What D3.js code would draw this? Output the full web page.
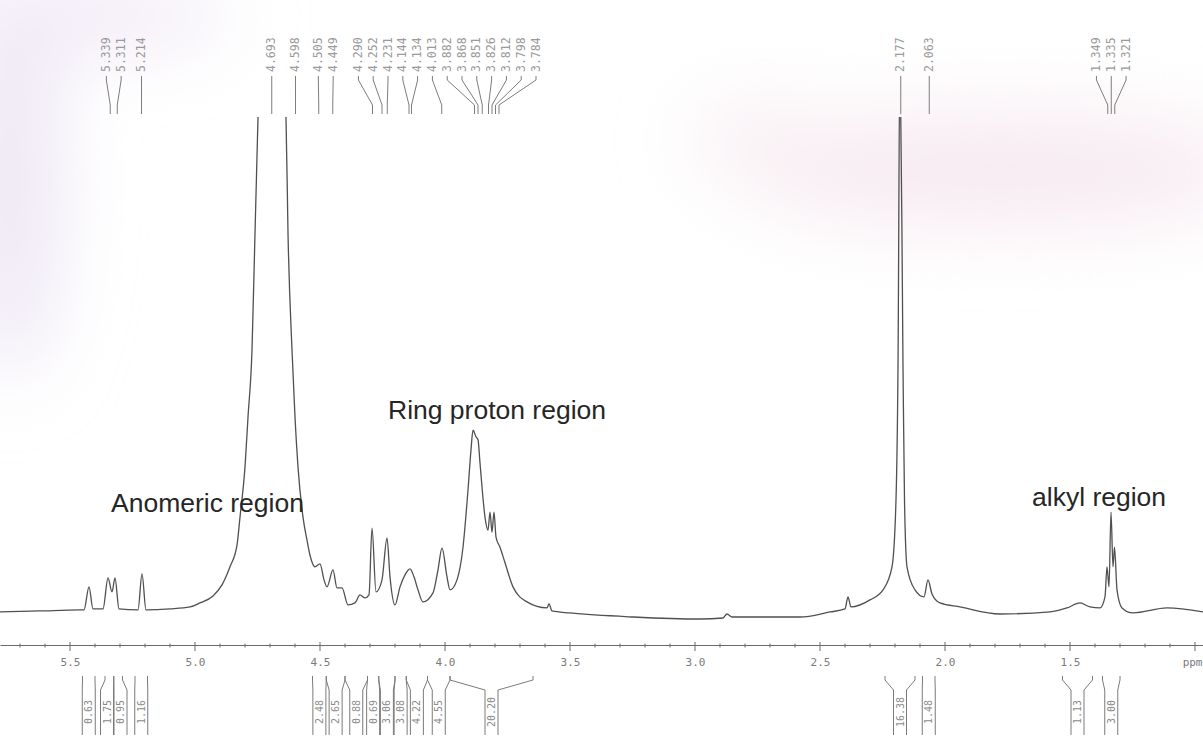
<!DOCTYPE html>
<html>
<head>
  <meta charset="utf-8">
  <script type="text/javascript" src="https://d3js.org/d3.v7.min.js" charset="utf-8"></script>
  <style>
    body {
      margin: 0;
      background: #ffffff;
    }
    .mono {
      font-family: "DejaVu Sans Mono", "Liberation Mono", monospace;
    }
    .region {
      font-family: "Liberation Sans", Arial, sans-serif;
      font-size: 26.5px;
      fill: #262626;
    }
  </style>
</head>
<body>
  <div id="container"></div>

  <script type="text/javascript">

    var w = 1203,
        h = 745;

    // spectrum trace (ppm, intensity)
    var tracePpm = [5.78, 5.62, 5.46, 5.444, 5.424, 5.408, 5.368, 5.348, 5.332, 5.32, 5.304, 5.228, 5.212, 5.196,
      5.10, 5.02, 4.98, 4.928, 4.892, 4.86, 4.832, 4.82, 4.80, 4.788, 4.772, 4.76, 4.748, 4.732, 4.692, 4.664,
      4.636, 4.628, 4.612, 4.60, 4.588, 4.568, 4.552, 4.54, 4.52, 4.50, 4.484, 4.472, 4.448, 4.432, 4.412,
      4.388, 4.36, 4.34, 4.32, 4.304, 4.292, 4.276, 4.252, 4.232, 4.22, 4.20, 4.18, 4.16, 4.14, 4.124,
      4.108, 4.088, 4.048, 4.028, 4.012, 3.992, 3.98, 3.952, 3.928, 3.908, 3.896, 3.888, 3.876, 3.868, 3.86,
      3.852, 3.84, 3.828, 3.82, 3.812, 3.804, 3.796, 3.78, 3.76, 3.728, 3.672, 3.592, 3.584, 3.572, 3.50,
      3.248, 2.98, 2.888, 2.872, 2.852, 2.58, 2.46, 2.40, 2.388, 2.376, 2.30, 2.248, 2.212, 2.196, 2.188,
      2.18, 2.168, 2.162, 2.152, 2.12, 2.084, 2.068, 2.052, 2.02, 1.94, 1.78, 1.58, 1.512, 1.46, 1.42,
      1.38, 1.36, 1.352, 1.344, 1.336, 1.328, 1.322, 1.312, 1.292, 1.248, 1.112, 0.968];
    var traceInt = [1.6, 1.8, 2.0, 2.0, 6.6, 2.2, 2.2, 8.4, 5.6, 8.4, 2.2, 2.0, 9.2, 2.0,
      2.2, 2.6, 3.4, 4.8, 7.0, 10.6, 14.9, 20.5, 30.5, 40.4, 53.8, 77.1, 100, 130, 140, 120,
      100, 77.1, 53.8, 40.4, 30.5, 20.5, 15.9, 12.9, 10.6, 11.2, 8.0, 6.6, 10.0, 6.4, 6.4,
      3.0, 3.4, 5.0, 4.4, 5.0, 18.3, 5.6, 8.0, 16.3, 8.6, 3.0, 6.6, 9.0, 10.2, 8.6,
      6.0, 3.6, 5.4, 10.0, 14.3, 8.6, 6.0, 8.0, 14.5, 25.9, 33.9, 37.8, 36.5, 35.9, 31.3,
      26.5, 20.5, 17.9, 21.5, 17.5, 21.5, 16.5, 14.5, 11.4, 6.6, 3.6, 2.4, 3.2, 1.8, 1.4,
      0.6, 0.2, 0.4, 1.2, 0.6, 0.6, 1.6, 2.2, 4.6, 2.6, 4.0, 6.0, 10.6, 23.9, 50.4,
      115, 50.4, 23.9, 10.6, 6.0, 4.6, 8.0, 5.2, 3.4, 2.6, 1.2, 1.6, 2.4, 3.4, 2.6,
      2.4, 4.6, 10.6, 6.6, 21.5, 10.6, 14.5, 6.0, 2.4, 1.4, 2.4, 1.6];

    // peak picking labels
    var peakLabels = ["5.339", "5.311", "5.214", "4.693", "4.598", "4.505", "4.449", "4.290", "4.252",
      "4.231", "4.144", "4.134", "4.013", "3.882", "3.868", "3.851", "3.826", "3.812", "3.798", "3.784",
      "2.177", "2.063", "1.349", "1.335", "1.321"];

    // integrals: region limits (ppm) and printed value
    var integralFrom = [5.45, 5.36, 5.325, 5.24, 4.53, 4.475, 4.40, 4.31, 4.265, 4.20, 4.155, 4.07, 3.98,
      2.24, 2.09, 1.53, 1.37];
    var integralTo = [5.40, 5.325, 5.29, 5.19, 4.475, 4.40, 4.31, 4.265, 4.20, 4.155, 4.07, 3.98, 3.648,
      2.12, 2.04, 1.41, 1.30];
    var integralValues = ["0.63", "1.75", "0.95", "1.16", "2.48", "2.65", "0.88", "0.69", "3.06", "3.08",
      "4.22", "4.55", "20.20", "16.38", "1.48", "1.13", "3.00"];

    // axis
    var majorTicks = [5.5, 5.0, 4.5, 4.0, 3.5, 3.0, 2.5, 2.0, 1.5, 1.0];
    var majorLabels = ["5.5", "5.0", "4.5", "4.0", "3.5", "3.0", "2.5", "2.0", "1.5", "ppm"];

    // region annotations, anchored in data space
    var regionNames = ["Anomeric region", "Ring proton region", "alkyl region"];
    var regionPpm = [5.336, 4.228, 1.652];
    var regionLevel = [21.5, 40.0, 22.7];

    var svg = d3.select("div#container").append("svg")
          .attr("width", w)
          .attr("height", h);

    var x = d3.scaleLinear().domain([5.78, 0.968]).range([0, w]);
    var y = d3.scaleLinear().domain([0, 100]).range([620, 118]);

    // scanned paper tint
    var defs = svg.append("defs");
    defs.append("filter").attr("id", "blur")
      .attr("x", "-50%").attr("y", "-50%").attr("width", "200%").attr("height", "200%")
      .append("feGaussianBlur").attr("stdDeviation", 40);
    defs.append("clipPath").attr("id", "plotclip")
      .append("rect").attr("x", 0).attr("y", 117).attr("width", w).attr("height", h);

    var tint = svg.append("g").attr("filter", "url(#blur)");
    tint.append("ellipse").attr("cx", 10).attr("cy", 180).attr("rx", 45).attr("ry", 200).attr("fill", "#ece4f3");
    tint.append("ellipse").attr("cx", 90).attr("cy", 15).attr("rx", 140).attr("ry", 30).attr("fill", "#efe6f4");
    tint.append("ellipse").attr("cx", 1000).attr("cy", 170).attr("rx", 260).attr("ry", 55).attr("fill", "#f6e9f0");
    tint.append("ellipse").attr("cx", 760).attr("cy", 140).attr("rx", 70).attr("ry", 35).attr("fill", "#f8eef3");

    // spectrum
    var pts = tracePpm.map(function(d, i) { return [x(d), y(traceInt[i])]; });
    var line = d3.line().curve(d3.curveMonotoneX);
    svg.append("path")
      .attr("d", line(pts))
      .attr("clip-path", "url(#plotclip)")
      .style("fill", "none")
      .style("stroke", "#505050")
      .style("stroke-width", 1.3);

    // axis
    var axis = d3.axisBottom(x)
      .tickValues(majorTicks)
      .tickSize(0)
      .tickSizeOuter(0)
      .tickFormat(function(d, i) { return majorLabels[i]; });
    var ax = svg.append("g").attr("transform", "translate(0,645)").call(axis);
    ax.select(".domain").style("stroke", "#6a6a6a").style("stroke-width", 1.2);
    ax.selectAll("text")
      .attr("class", "mono")
      .attr("dy", "1.6em")
      .style("font-size", "11px")
      .style("fill", "#7a7a7a");
    // last label sits on the right edge
    ax.selectAll(".tick").filter(function(d) { return d === 1.0; })
      .select("text")
        .attr("text-anchor", "end")
        .attr("x", w - 1 - x(1.0));

    var minorTicks = d3.range(57, 9, -1).map(function(d) { return d / 10; });
    svg.append("g").selectAll("line")
      .data(minorTicks)
      .enter().append("line")
        .attr("x1", function(d) { return x(d); })
        .attr("x2", function(d) { return x(d); })
        .attr("y1", function(d) { return Math.abs(d * 2 - Math.round(d * 2)) < 1e-6 ? 642 : 643.5; })
        .attr("y2", function(d) { return Math.abs(d * 2 - Math.round(d * 2)) < 1e-6 ? 651 : 647.5; })
        .style("stroke", "#6a6a6a")
        .style("stroke-width", 1);

    // spread label positions so they don't collide
    function spread(centers, gap) {
      var pos = centers.slice();
      for (var it = 0; it < 400; it++) {
        for (var i = 1; i < pos.length; i++) {
          var d = pos[i] - pos[i - 1];
          if (d < gap) {
            var m = (gap - d) / 2;
            pos[i - 1] -= m;
            pos[i] += m;
          }
        }
      }
      return pos;
    }

    var peakX = peakLabels.map(function(d) { return x(+d); });
    var labelX = spread(peakX, 14.8);

    var peaks = svg.append("g");
    peaks.selectAll("path")
      .data(peakLabels)
      .enter().append("path")
        .attr("d", function(d, i) {
          return "M" + labelX[i] + ",76 L" + labelX[i] + ",80 L" + peakX[i] + ",105 L" + peakX[i] + ",114";
        })
        .style("fill", "none")
        .style("stroke", "#7d7d7d")
        .style("stroke-width", 1);
    peaks.selectAll("text")
      .data(peakLabels)
      .enter().append("text")
        .attr("class", "mono")
        .attr("transform", function(d, i) { return "translate(" + (labelX[i] + 3.5) + ",72) rotate(-90)"; })
        .style("font-size", "11.5px")
        .style("fill", "#9a9a9a")
        .text(function(d) { return d; });

    // integrals
    var intCenter = integralFrom.map(function(d, i) { return x((d + integralTo[i]) / 2); });
    var colX = spread(intCenter, 13.5);
    var cw = 6.5, yTop = 676, yBend = 690, yBot = 735;

    var ints = svg.append("g");
    ints.selectAll("path")
      .data(integralValues)
      .enter().append("path")
        .attr("d", function(d, i) {
          var xl = x(integralFrom[i]), xr = x(integralTo[i]);
          return "M" + xl + "," + yTop + " L" + xl + "," + (yTop + 4) + " L" + (colX[i] - cw) + "," + yBend +
                 " L" + (colX[i] - cw) + "," + yBot +
                 " M" + xr + "," + yTop + " L" + xr + "," + (yTop + 4) + " L" + (colX[i] + cw) + "," + yBend +
                 " L" + (colX[i] + cw) + "," + yBot;
        })
        .style("fill", "none")
        .style("stroke", "#7a7a7a")
        .style("stroke-width", 1);
    ints.selectAll("text")
      .data(integralValues)
      .enter().append("text")
        .attr("class", "mono")
        .attr("text-anchor", "middle")
        .attr("transform", function(d, i) { return "translate(" + (colX[i] + 3.5) + ",712) rotate(-90)"; })
        .style("font-size", "10px")
        .style("fill", "#8a8a8a")
        .text(function(d) { return d; });

    // region annotations
    svg.append("g").selectAll("text")
      .data(regionNames)
      .enter().append("text")
        .attr("class", "region")
        .attr("x", function(d, i) { return x(regionPpm[i]); })
        .attr("y", function(d, i) { return y(regionLevel[i]); })
        .text(function(d) { return d; });

  </script>
</body>
</html>
